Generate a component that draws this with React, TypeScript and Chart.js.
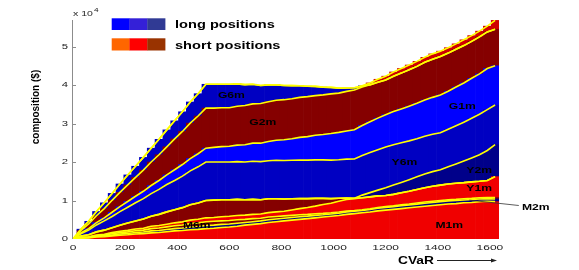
import React, { useEffect, useRef } from 'react';
import { Chart, registerables } from 'chart.js';

Chart.register(...registerables);

// ---------- data (values in units of 10^4 $) ----------
const CVAR = [0, 30, 60, 90, 120, 150, 180, 210, 240, 270, 300, 330, 360, 390, 420, 450, 480, 510, 540, 570, 600, 630, 660, 690, 720, 750, 780, 810, 840, 870, 900, 930, 960, 990, 1020, 1050, 1080, 1110, 1140, 1170, 1200, 1230, 1260, 1290, 1320, 1350, 1380, 1410, 1440, 1470, 1500, 1530, 1560, 1590, 1620];

const M1M = [0, .02, .03, .05, .06, .08, .10, .11, .13, .14, .16, .17, .19, .21, .22, .24, .25, .27, .28, .30, .31, .33, .36, .38, .40, .43, .45, .47, .49, .51, .53, .55, .57, .59, .61, .64, .66, .68, .70, .73, .75, .77, .79, .81, .83, .85, .87, .89, .91, .92, .94, .95, .97, .98, .97];
const M2M = [0, .005, .01, .015, .02, .025, .03, .035, .04, .04, .05, .05, .055, .06, .065, .07, .075, .08, .08, .08, .08, .08, .07, .07, .07, .07, .07, .07, .07, .07, .065, .065, .06, .06, .06, .06, .06, .06, .065, .07, .07, .07, .075, .075, .075, .08, .08, .08, .08, .08, .075, .075, .07, .07, .07];
const M6M = [0, .01, .01, .02, .02, .03, .035, .04, .045, .05, .06, .065, .07, .075, .08, .09, .095, .10, .10, .09, .09, .09, .08, .08, .07, .07, .065, .06, .055, .05, .045, .04, .035, .03, .03, .025, .02, .02, .02, .02, .02, .02, .025, .025, .03, .03, .03, .03, .03, .03, .03, .03, .03, .03, .04];
const Y1M = [0, .01, .01, .02, .02, .03, .035, .04, .045, .05, .06, .065, .07, .075, .08, .09, .095, .10, .10, .11, .11, .11, .11, .11, .11, .115, .12, .12, .14, .16, .18, .20, .23, .25, .28, .30, .31, .31, .31, .30, .29, .30, .31, .33, .35, .37, .39, .40, .41, .42, .42, .43, .43, .44, .54];
const Y2M_SHORT = [0, .03, .05, .08, .11, .13, .16, .19, .21, .24, .26, .29, .32, .34, .37, .40, .42, .45, .45, .44, .43, .42, .40, .39, .37, .36, .34, .32, .29, .26, .23, .20, .16, .12, .08, .04, .01, 0, 0, 0, 0, 0, 0, 0, 0, 0, 0, 0, 0, 0, 0, 0, 0, 0, 0];
const Y2M_LONG = [0, 0, 0, 0, 0, 0, 0, 0, 0, 0, 0, 0, 0, 0, 0, 0, 0, 0, 0, 0, 0, 0, 0, 0, 0, 0, 0, 0, 0, 0, 0, 0, 0, 0, 0, 0, 0, .07, .11, .15, .20, .24, .27, .30, .33, .36, .38, .40, .45, .50, .56, .62, .69, .78, .83];
const Y6M = [0, .06, .12, .18, .24, .29, .35, .41, .47, .53, .59, .65, .71, .76, .82, .88, .94, 1.00, .99, .98, .98, .98, .98, .99, .99, .99, 1.0, 1.0, 1.0, 1.0, 1.0, 1.0, 1.0, 1.0, 1.0, 1.01, 1.02, 1.03, 1.04, 1.05, 1.06, 1.05, 1.03, 1.01, .99, .98, .97, .96, .97, .99, 1.01, 1.03, 1.05, 1.06, 1.03];
const G1M = [0, .02, .04, .06, .08, .11, .13, .15, .17, .19, .21, .23, .25, .28, .30, .32, .34, .36, .38, .40, .41, .43, .45, .47, .48, .50, .52, .54, .56, .59, .61, .64, .66, .69, .71, .73, .76, .78, .80, .82, .84, .86, .88, .90, .92, .94, .96, .98, .99, 1.01, 1.02, 1.04, 1.05, 1.07, 1.02];
const G2M = [0, .06, .12, .18, .24, .31, .37, .43, .49, .55, .61, .67, .73, .80, .86, .92, .98, 1.04, 1.02, 1.01, 1.00, 1.01, 1.02, 1.02, 1.03, 1.03, 1.04, 1.04, 1.04, 1.04, 1.04, 1.03, 1.03, 1.03, 1.02, 1.03, 1.03, 1.00, .96, .93, .90, .92, .93, .95, .96, .98, .99, 1.0, .99, .98, .97, .96, .96, .95, .95];
const G6M_LONG = [0, .04, .07, .11, .15, .18, .22, .26, .29, .33, .36, .40, .44, .47, .51, .55, .58, .62, .62, .61, .61, .58, .54, .51, .47, .44, .40, .37, .34, .30, .27, .24, .20, .17, .13, .09, .06, .03, 0, 0, 0, 0, 0, 0, 0, 0, 0, 0, 0, 0, 0, 0, 0, 0, 0];
const G6M_SHORT = [0, 0, 0, 0, 0, 0, 0, 0, 0, 0, 0, 0, 0, 0, 0, 0, 0, 0, 0, 0, 0, 0, 0, 0, 0, 0, 0, 0, 0, 0, 0, 0, 0, 0, 0, 0, 0, 0, .05, .08, .10, .11, .12, .12, .13, .13, .14, .14, .14, .14, .15, .15, .15, .15, .23];

const X_TICKS = [0, 200, 400, 600, 800, 1000, 1200, 1400, 1600];
const Y_TICKS = [0, 1, 2, 3, 4, 5];
const X_MAX = 1635;
const Y_MAX = 5.69;

const RED = '#F00000';
const MAROON = '#850000';
const NAVY = '#00008A';
const MEDBLUE = '#0000C2';
const BLUE = '#0000FF';
const DARKRED = '#D00000';

const LONG_SWATCH = ['#0000FF', '#3420D8', '#303A94'];
const SHORT_SWATCH = ['#FF6600', '#FF0000', '#993300'];

const LAYERS = [
  { name: 'M1m', values: M1M, color: RED },
  { name: 'M2m', values: M2M, color: NAVY },
  { name: 'M6m', values: M6M, color: MAROON },
  { name: 'Y1m', values: Y1M, color: RED },
  { name: 'Y2m short', values: Y2M_SHORT, color: MAROON },
  { name: 'Y2m long', values: Y2M_LONG, color: NAVY },
  { name: 'Y6m', values: Y6M, color: MEDBLUE },
  { name: 'G1m', values: G1M, color: BLUE },
  { name: 'G2m', values: G2M, color: MAROON },
  { name: 'G6m long', values: G6M_LONG, color: MEDBLUE },
  { name: 'G6m short', values: G6M_SHORT, color: DARKRED },
];

// label anchors in data coordinates (CVaR, 10^4 $)
const LABELS = [
  { text: 'G6m', x: 608, y: 3.74 },
  { text: 'G2m', x: 728, y: 3.02 },
  { text: 'G1m', x: 1494, y: 3.45 },
  { text: 'Y6m', x: 1272, y: 1.98 },
  { text: 'Y2m', x: 1559, y: 1.79 },
  { text: 'Y1m', x: 1559, y: 1.30 },
  { text: 'M1m', x: 1444, y: 0.36 },
  { text: 'M6m', x: 475, y: 0.36 },
];
const M2M_LABEL = { text: 'M2m', x: 1723, y: 0.83, fromX: 1521, fromY: 1.01, toX: 1711, toY: 0.87 };

const FONT = '"Liberation Sans", Arial, Helvetica, sans-serif';

function stretchText(ctx: CanvasRenderingContext2D, text: string, x: number, y: number, font: string, align: CanvasTextAlign, sx: number, baseline: CanvasTextBaseline = 'middle', color = '#000') {
  ctx.save();
  ctx.translate(x, y);
  ctx.scale(sx, 1);
  ctx.font = font;
  ctx.textAlign = align;
  ctx.textBaseline = baseline;
  ctx.fillStyle = color;
  ctx.fillText(text, 0, 0);
  ctx.restore();
}

const decorPlugin = {
  id: 'decor',
  afterDraw(chart: any) {
    const ctx: CanvasRenderingContext2D = chart.ctx;
    const xs = chart.scales.x;
    const ys = chart.scales.y;
    const ca = chart.chartArea;

    // y axis line + inward ticks
    ctx.save();
    ctx.strokeStyle = '#8c8c8c';
    ctx.lineWidth = 1;
    ctx.beginPath();
    ctx.moveTo(ca.left - 0.5, ca.top);
    ctx.lineTo(ca.left - 0.5, ca.bottom);
    for (const v of Y_TICKS) {
      if (v === 0) continue;
      const py = Math.round(ys.getPixelForValue(v)) + 0.5;
      ctx.moveTo(ca.left - 0.5, py);
      ctx.lineTo(ca.left + 3, py);
    }
    ctx.stroke();
    ctx.restore();

    const tickFont = `7.5px ${FONT}`;
    for (const v of Y_TICKS) {
      stretchText(ctx, String(v), ca.left - 5, ys.getPixelForValue(v), tickFont, 'right', 1.5, 'middle', '#222');
    }
    for (const v of X_TICKS) {
      stretchText(ctx, String(v), xs.getPixelForValue(v), ca.bottom + 8.5, tickFont, 'center', 1.6, 'middle', '#222');
    }

    // exponent
    stretchText(ctx, 'x 10', ca.left, 14, `7px ${FONT}`, 'left', 1.5, 'middle', '#222');
    stretchText(ctx, '4', ca.left + 21, 10.5, `5.5px ${FONT}`, 'left', 1.5, 'middle', '#222');

    // y title
    ctx.save();
    ctx.translate(36, 107);
    ctx.scale(1.15, 1);
    ctx.rotate(-Math.PI / 2);
    ctx.font = `bold 10px ${FONT}`;
    ctx.textAlign = 'center';
    ctx.textBaseline = 'middle';
    ctx.fillStyle = '#000';
    ctx.fillText('composition ($)', 0, 0);
    ctx.restore();

    // x title with arrow
    stretchText(ctx, 'CVaR', 398, 261, `bold 11px ${FONT}`, 'left', 1.25, 'middle', '#000');
    ctx.save();
    ctx.strokeStyle = '#222';
    ctx.fillStyle = '#222';
    ctx.lineWidth = 1;
    ctx.beginPath();
    ctx.moveTo(437, 260.5);
    ctx.lineTo(492, 260.5);
    ctx.stroke();
    ctx.beginPath();
    ctx.moveTo(491, 258.5);
    ctx.lineTo(497, 260.5);
    ctx.lineTo(491, 262.5);
    ctx.closePath();
    ctx.fill();
    ctx.restore();

    // legend
    const sw = 17.8;
    LONG_SWATCH.forEach((c, i) => {
      ctx.fillStyle = c;
      ctx.fillRect(111.7 + i * sw, 18.3, sw + 0.3, 11.7);
    });
    SHORT_SWATCH.forEach((c, i) => {
      ctx.fillStyle = c;
      ctx.fillRect(111.7 + i * sw, 38.3, sw + 0.3, 12.2);
    });
    stretchText(ctx, 'long positions', 175, 27.7, `bold 11.5px ${FONT}`, 'left', 1.27, 'alphabetic', '#000');
    stretchText(ctx, 'short positions', 175, 49.3, `bold 11.5px ${FONT}`, 'left', 1.27, 'alphabetic', '#000');

    // layer labels
    const lf = `bold 9px ${FONT}`;
    for (const l of LABELS) {
      stretchText(ctx, l.text, xs.getPixelForValue(l.x), ys.getPixelForValue(l.y), lf, 'center', 1.35, 'middle', '#000');
    }
    ctx.save();
    ctx.strokeStyle = '#333';
    ctx.lineWidth = 0.8;
    ctx.beginPath();
    ctx.moveTo(xs.getPixelForValue(M2M_LABEL.fromX), ys.getPixelForValue(M2M_LABEL.fromY));
    ctx.lineTo(xs.getPixelForValue(M2M_LABEL.toX), ys.getPixelForValue(M2M_LABEL.toY));
    ctx.stroke();
    ctx.restore();
    stretchText(ctx, M2M_LABEL.text, xs.getPixelForValue(M2M_LABEL.x), ys.getPixelForValue(M2M_LABEL.y), lf, 'left', 1.35, 'middle', '#000');
  },
};

export default function App() {
  const ref = useRef<HTMLCanvasElement>(null);

  useEffect(() => {
    const lineSets = LAYERS.map((l) => ({
      type: 'line' as const,
      label: l.name + ' edge',
      data: CVAR.map((x, j) => ({ x, y: l.values[j] })),
      stack: 'lines',
      borderColor: '#FFFF00',
      borderWidth: 1.6,
      pointRadius: 0,
      fill: false,
      tension: 0,
      order: 0,
    }));
    const barSets = LAYERS.map((l) => ({
      type: 'bar' as const,
      label: l.name,
      data: CVAR.map((x, j) => ({ x, y: l.values[j] === 0 ? null : l.values[j] })),
      stack: 'bars',
      backgroundColor: l.color,
      borderWidth: 0,
      barPercentage: 1,
      categoryPercentage: 1,
      grouped: false,
      order: 1,
    }));

    const chart = new Chart(ref.current!, {
      type: 'bar',
      data: { datasets: [...lineSets, ...barSets] as any },
      options: {
        animation: false,
        responsive: false,
        events: [],
        layout: { padding: { left: 73, right: 80, top: 20, bottom: 31 } },
        plugins: { legend: { display: false }, tooltip: { enabled: false } },
        scales: {
          x: { type: 'linear', min: 0, max: X_MAX, stacked: true, display: false, offset: false },
          y: { type: 'linear', min: 0, max: Y_MAX, stacked: true, display: false },
        },
      },
      plugins: [decorPlugin],
    } as any);
    return () => chart.destroy();
  }, []);

  return (
    <div style={{ position: 'fixed', left: 0, top: 0, width: 579, height: 270, background: '#fff' }}>
      <canvas ref={ref} width={579} height={270} style={{ width: 579, height: 270, display: 'block' }} />
    </div>
  );
}
